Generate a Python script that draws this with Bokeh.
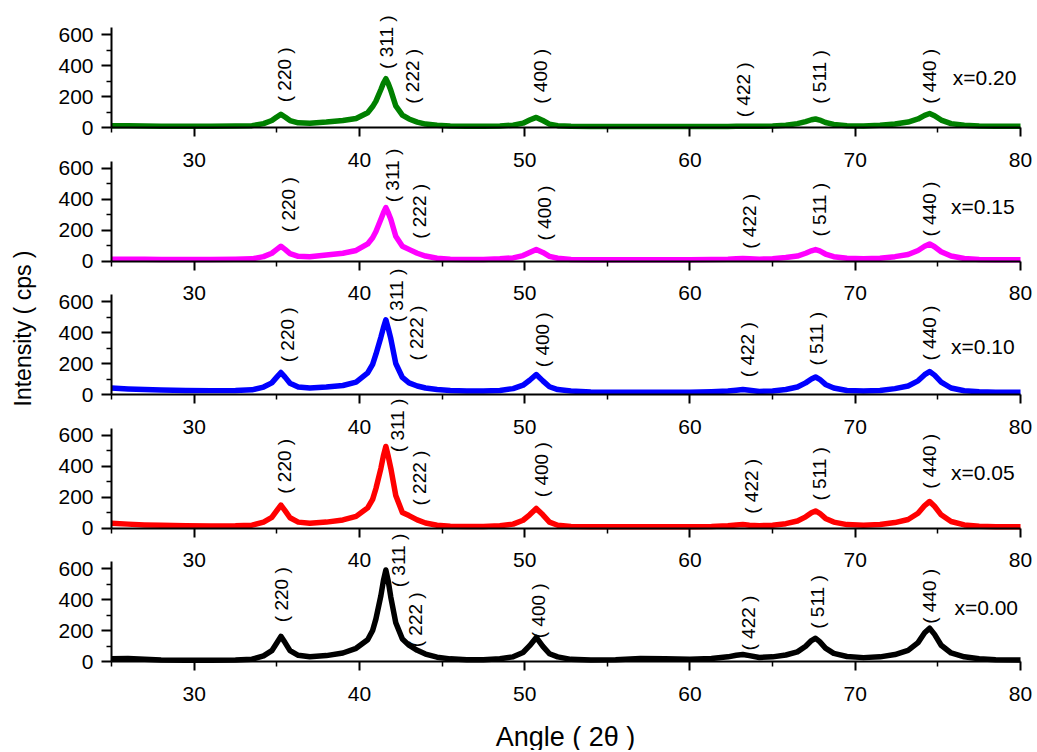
import math
from bokeh.plotting import figure
from bokeh.models import Range1d, LinearAxis, FixedTicker, Label
from bokeh.embed import file_html
from bokeh.resources import INLINE

# ---------------- data ----------------
ANGLE = [25, 26, 27, 28, 29.5, 31, 32.5, 33.5,
         34.2, 34.7, 35.0, 35.25, 35.5, 35.8, 36.3,
         37.0, 38.0, 39.0, 39.8,
         40.5, 40.8, 41.0, 41.3, 41.45, 41.6, 41.75, 41.9, 42.2, 42.6, 43.0, 43.5, 44.0, 44.7, 45.5,
         46.5, 47.5, 48.5,
         49.3, 49.9, 50.3, 50.7, 51.1, 51.5, 52.0, 52.8,
         54.0, 55.5, 57.0, 58.5, 60.0, 61.3,
         62.3, 62.8, 63.2, 63.6, 64.2,
         65.0,
         65.8, 66.5, 67.0, 67.35, 67.6, 67.85, 68.2, 68.7, 69.5,
         70.5, 71.5,
         72.4, 73.2, 73.8, 74.2, 74.5, 74.8, 75.2, 75.8, 76.6,
         77.5, 78.5, 80]

I_020 = [12, 12, 10, 8, 8, 8, 9, 12,
         25, 45, 68, 85, 68, 45, 30,
         28, 35, 45, 58,
         95, 135, 170, 245, 285, 315, 282, 240, 140, 80, 55, 35, 22, 14, 10,
         8, 8, 10,
         15, 28, 48, 65, 45, 22, 12, 8,
         6, 6, 6, 6, 6, 6,
         7, 8, 8, 8, 8,
         10,
         15, 25, 38, 50, 55, 48, 32, 20, 12,
         10, 14,
         22, 35, 55, 78, 90, 76, 48, 25, 14,
         10, 8, 8]

I_015 = [12, 12, 11, 10, 10, 10, 11, 14,
         28, 50, 75, 95, 75, 48, 30,
         28, 38, 50, 68,
         110, 150, 190, 270, 310, 345, 310, 270, 160, 95, 75, 50, 32, 18, 12,
         10, 10, 14,
         20, 35, 55, 74, 55, 30, 18, 10,
         8, 8, 8, 8, 8, 10,
         12, 15, 16, 14, 12,
         14,
         22, 32, 50, 66, 74, 65, 45, 28, 18,
         14, 18,
         28, 42, 68, 95, 110, 92, 60, 32, 16,
         10, 8, 8]

I_010 = [42, 36, 32, 29, 26, 25, 26, 30,
         48, 75, 112, 142, 112, 72, 48,
         42, 48, 58, 80,
         140, 195, 260, 370, 430, 482, 425, 360, 200, 110, 75, 55, 42, 32, 26,
         22, 22, 26,
         38, 60, 92, 129, 88, 50, 32, 22,
         16, 15, 15, 15, 15, 18,
         22, 28, 32, 27, 20,
         22,
         32, 48, 75, 100, 113, 98, 65, 42, 26,
         22, 26,
         38, 55, 88, 128, 148, 125, 80, 42, 24,
         17, 15, 15]

I_005 = [30, 25, 20, 17, 15, 13, 14, 18,
         38, 68, 112, 148, 112, 66, 38,
         30, 38, 52, 75,
         130, 185, 255, 385, 465, 526, 460, 385, 210, 100, 80, 52, 32, 18, 12,
         10, 10, 15,
         25, 50, 85, 126, 85, 38, 18, 10,
         8, 8, 8, 8, 8, 10,
         15, 20, 22, 18, 15,
         18,
         28, 45, 72, 98, 110, 95, 62, 38, 22,
         18, 22,
         35, 55, 95, 145, 171, 140, 85, 42, 20,
         12, 8, 8]

I_000 = [17, 20, 15, 10, 8, 8, 10, 15,
         36, 70, 120, 162, 122, 70, 40,
         30, 38, 55, 85,
         140, 200, 275, 425, 520, 590, 515, 415, 250, 145, 105, 72, 48, 28, 17,
         12, 12, 18,
         30, 58, 102, 155, 98, 50, 30, 14,
         9, 12, 20, 18, 15, 20,
         30, 40, 45, 38, 26,
         30,
         42, 62, 98, 135, 150, 128, 86, 52, 32,
         25, 30,
         45, 72, 122, 185, 215, 175, 105, 55, 30,
         18, 12, 10]

SAMPLES = ["x=0.20", "x=0.15", "x=0.10", "x=0.05", "x=0.00"]
SERIES = [I_020, I_015, I_010, I_005, I_000]
COLORS = ["#008000", "#ff00ff", "#0000ff", "#ff0000", "#000000"]

HKL = ["( 220 )", "( 311 )", "( 222 )", "( 400 )", "( 422 )", "( 511 )", "( 440 )"]
# label anchor (angle, intensity at the start of the vertical text), per panel
HKL_X = [[35.47, 41.64, 43.21, 50.96, 63.24, 67.84, 74.50],
         [35.68, 42.00, 43.64, 51.20, 63.60, 67.84, 74.50],
         [35.65, 42.24, 43.45, 51.08, 63.48, 67.66, 74.50],
         [35.47, 42.30, 43.64, 51.02, 63.72, 67.84, 74.50],
         [35.29, 42.37, 43.39, 50.84, 63.54, 67.72, 74.50]]
HKL_Y = [[163, 378, 153, 153, 66, 153, 153],
         [186, 379, 143, 132, 79, 158, 158],
         [208, 466, 219, 176, 112, 187, 219],
         [221, 489, 145, 199, 92, 177, 253],
         [254, 479, 92, 150, 71, 211, 243]]
SAMPLE_X = [75.9, 75.8, 75.8, 75.8, 76.0]
SAMPLE_Y = [325, 352, 310, 360, 350]

X_TICKS = [30, 40, 50, 60, 70, 80]
X_MINOR = [25, 35, 45, 55, 65, 75]
Y_TICKS = [0, 200, 400, 600]
Y_MINOR = [100, 300, 500]

# ---------------- layout (frame covers the whole canvas) ----------------
FONT = "Liberation Sans"
W, H = 1036, 750
X25_PX, X80_PX = 111, 1020
BASE = [127, 260.5, 394, 527.5, 661]      # px of y=0 for each panel
K = 93.0 / 600.0                           # px per count
PX_PER_DEG = (X80_PX - X25_PX) / 55.0


def xdata(px):
    return 25 + (px - X25_PX) / PX_PER_DEG


def prange(i):
    return Range1d((BASE[i] - H) / K, BASE[i] / K)


def ydata(px, i=4):
    return (BASE[i] - px) / K


p = figure(width=W, height=H, x_range=Range1d(xdata(0), xdata(W)), y_range=prange(4),
           output_backend="svg", toolbar_location=None,
           x_axis_location=None, y_axis_location=None,
           min_border_left=0, min_border_right=0, min_border_top=0, min_border_bottom=0)
p.outline_line_color = None
p.background_fill_color = "white"
p.border_fill_color = "white"
p.xgrid.visible = False
p.ygrid.visible = False
p.extra_y_ranges = {f"p{i}": prange(i) for i in range(4)}


def style_axis(ax, tick_out, standoff):
    ax.axis_line_width = 2
    ax.axis_line_color = "black"
    ax.major_tick_line_width = 2
    ax.minor_tick_line_width = 1.5
    ax.major_tick_in = 0
    ax.minor_tick_in = 0
    ax.major_tick_out = tick_out
    ax.minor_tick_out = 5
    ax.major_label_text_font = FONT
    ax.major_label_text_font_size = "21px"
    ax.major_label_text_color = "black"
    ax.major_label_standoff = standoff


for i in range(5):
    rn = "default" if i == 4 else f"p{i}"
    p.line(ANGLE, SERIES[i], y_range_name=rn, line_color=COLORS[i],
           line_width=5.5, line_join="round")

    xa = LinearAxis(y_range_name=rn, fixed_location=0, bounds=(25, 80),
                    ticker=FixedTicker(ticks=X_TICKS, minor_ticks=X_MINOR))
    style_axis(xa, 9, 16)
    p.add_layout(xa, "below")

    ya = LinearAxis(y_range_name=rn, fixed_location=25, bounds=(0, 645),
                    ticker=FixedTicker(ticks=Y_TICKS, minor_ticks=Y_MINOR))
    style_axis(ya, 10, 8)
    p.add_layout(ya, "left")

    for t, hx, hy in zip(HKL, HKL_X[i], HKL_Y[i]):
        p.add_layout(Label(x=hx, y=hy, y_range_name=rn, text=t, angle=math.pi / 2,
                           text_align="left", text_baseline="middle",
                           text_font=FONT, text_font_size="19px", text_color="black"))
    p.add_layout(Label(x=SAMPLE_X[i], y=SAMPLE_Y[i], y_range_name=rn, text=SAMPLES[i],
                       text_align="left", text_baseline="middle",
                       text_font=FONT, text_font_size="21px", text_color="black"))

# axis titles
p.add_layout(Label(x=xdata(22), y=ydata(328), text="Intensity ( cps )", angle=math.pi / 2,
                   text_align="center", text_baseline="middle",
                   text_font=FONT, text_font_size="23px", text_color="black"))
p.add_layout(Label(x=xdata(565), y=ydata(736), text="Angle ( 2θ )",
                   text_align="center", text_baseline="middle",
                   text_font=FONT, text_font_size="27px", text_color="black"))

open("out.html", "w").write(file_html(p, INLINE))
